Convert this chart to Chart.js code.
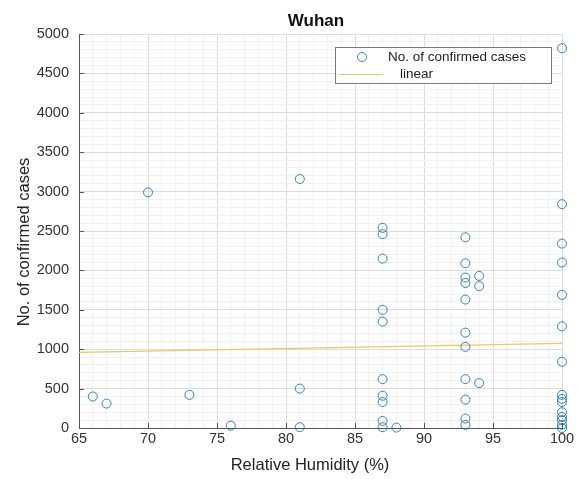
<!DOCTYPE html>
<html>
<head>
<meta charset="utf-8">
<script src="https://cdn.jsdelivr.net/npm/chart.js@4/dist/chart.umd.min.js"></script>
<style>
  html,body{margin:0;padding:0;background:#fff;}
  #wrap{width:582px;height:479px;}
</style>
</head>
<body>
<div id="wrap"><canvas id="wuhanChart" width="582" height="479"></canvas></div>
<script>
// relative humidity (%) and confirmed cases, one entry per day
let humidity=[66,67,70,73,76,81,81,81,
  87,87,87,87,87,87,87,87,87,87,88,
  93,93,93,93,93,93,93,93,93,93,93,94,94,94,
  100,100,100,100,100,100,100,100,100,100,100,100,100,100,100];
let cases=[400,310,2990,420,30,3160,500,10,
  2540,2460,2150,1500,1350,620,410,330,90,10,5,
  2420,2090,1910,1840,1630,1210,1030,620,360,120,40,1930,1800,570,
  4820,2840,2340,2100,1690,1290,840,420,370,330,200,140,100,40,0];
// fitted line end points
let fitX=[65,100];
let fitY=[960,1075];

let titleText='Wuhan';
let xLabel='Relative Humidity (%)';
let yLabel='No. of confirmed cases';

let markerColor='rgba(20,110,180,0.85)';
let fitColor='rgb(236,200,95)';
let font='"Liberation Sans", Arial, sans-serif';

let points=[];
for(let i=0;i<humidity.length;++i){
  points.push({x:humidity[i],y:cases[i]});
}
let fitLine=[];
for(let i=0;i<fitX.length;++i){
  fitLine.push({x:fitX[i],y:fitY[i]});
}

// title and axis labels, placed by hand
let labels={
  id:'labels',
  afterDraw(chart){
    let c=chart.ctx;
    c.save();
    c.textAlign='center';
    c.textBaseline='middle';
    c.fillStyle='#111';
    c.font='bold 17px '+font;
    c.fillText(titleText,316,21);
    c.fillStyle='#222';
    c.font='16.5px '+font;
    c.fillText(xLabel,310,465);
    c.translate(24,242);
    c.rotate(-Math.PI/2);
    c.fillText(yLabel,0,0);
    c.restore();
  }
};

// legend box drawn inside the plot area, top right
let insideLegend={
  id:'insideLegend',
  afterDraw(chart){
    let c=chart.ctx;
    c.save();
    c.fillStyle='#fff';
    c.fillRect(335.5,47.5,216,36);
    c.strokeStyle='#7a7a7a';
    c.lineWidth=1;
    c.strokeRect(335.5,47.5,216,36);
    c.strokeStyle=markerColor;
    c.beginPath();
    c.arc(362,57,4.5,0,Math.PI*2);
    c.stroke();
    c.strokeStyle=fitColor;
    c.beginPath();
    c.moveTo(339,74.5);
    c.lineTo(383,74.5);
    c.stroke();
    c.fillStyle='#222';
    c.font='13.5px '+font;
    c.textBaseline='middle';
    c.fillText('No. of confirmed cases',388,57);
    c.fillText('linear',400,74);
    c.restore();
  }
};

// small inward tick marks on the left and bottom axes
let innerTicks={
  id:'innerTicks',
  afterDatasetsDraw(chart){
    let c=chart.ctx,a=chart.chartArea;
    let xs=chart.scales.x,ys=chart.scales.y;
    c.save();
    c.strokeStyle='#555';
    c.lineWidth=1;
    c.beginPath();
    for(let v=65;v<=100;v+=5){
      let px=Math.round(xs.getPixelForValue(v))+0.5;
      c.moveTo(px,a.bottom);c.lineTo(px,a.bottom-5);
    }
    for(let v=0;v<=5000;v+=500){
      let py=Math.round(ys.getPixelForValue(v))+0.5;
      c.moveTo(a.left,py);c.lineTo(a.left+5,py);
    }
    c.stroke();
    c.restore();
  }
};

new Chart('wuhanChart',{
  type:'scatter',
  data:{
    datasets:[{
      label:'No. of confirmed cases',
      data:points,
      pointStyle:'circle',
      pointRadius:4.5,
      pointBorderWidth:1,
      pointBorderColor:markerColor,
      pointBackgroundColor:'rgba(0,0,0,0)',
      borderColor:markerColor,
      clip:false,
      order:1
    },{
      type:'line',
      label:'linear',
      data:fitLine,
      borderColor:fitColor,
      borderWidth:1.2,
      pointRadius:0,
      fill:false,
      order:2
    }]
  },
  plugins:[labels,insideLegend,innerTicks],
  options:{
    responsive:false,
    animation:false,
    layout:{padding:{left:0,right:20,top:34,bottom:0}},
    plugins:{
      legend:{display:false},
      tooltip:{enabled:false},
      title:{display:false}
    },
    scales:{
      x:{
        type:'linear',
        min:65,max:100,
        afterFit(scale){scale.height=51;},
        ticks:{
          stepSize:1,
          autoSkip:false,
          maxRotation:0,
          padding:2,
          color:'#333',
          font:{family:font,size:14.5},
          callback:function(v){return v%5===0?String(v):'';}
        },
        grid:{
          drawTicks:false,
          color:function(ctx){return ctx.tick&&ctx.tick.value%5===0?'#dcdcdc':'#f1f1f1';}
        },
        border:{color:'#555',width:1}
      },
      y:{
        min:0,max:5000,
        afterFit(scale){scale.width=79;},
        ticks:{
          stepSize:100,
          autoSkip:false,
          padding:10,
          color:'#333',
          font:{family:font,size:14.5},
          callback:function(v){return v%500===0?String(v):'';}
        },
        grid:{
          drawTicks:false,
          color:function(ctx){return ctx.tick&&ctx.tick.value%500===0?'#dcdcdc':'#f1f1f1';}
        },
        border:{color:'#555',width:1}
      }
    }
  }
});
</script>
</body>
</html>
